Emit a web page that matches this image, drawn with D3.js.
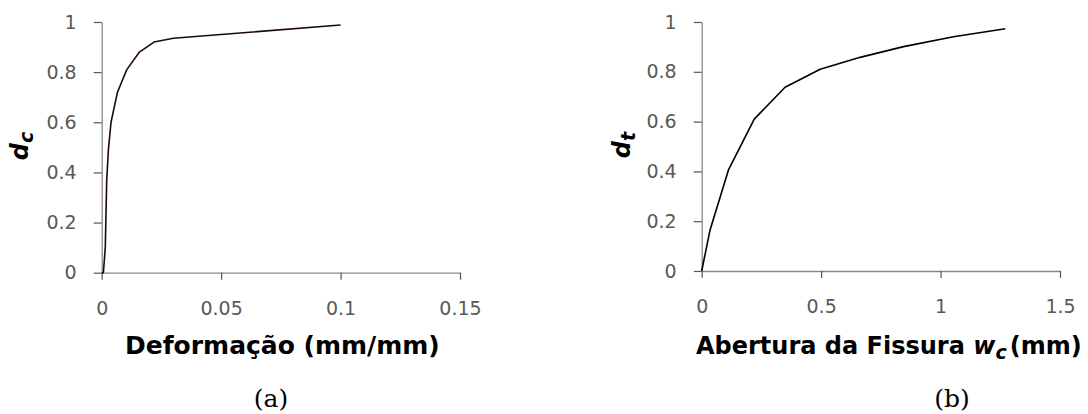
<!DOCTYPE html>
<html>
<head>
<meta charset="utf-8">
<script src="https://cdn.jsdelivr.net/npm/d3@7"></script>
<style>
    body { margin: 0; background: #fff; }
    .axis text { font-family: "DejaVu Sans", sans-serif; font-size: 19px; fill: #595959; }
    .axis path { stroke: #888; stroke-width: 1.3px; }
    .axis line { stroke: #555; stroke-width: 1.2px; }
    .title { font-family: "DejaVu Sans", sans-serif; font-size: 24px; font-weight: bold; fill: #000; }
    .caption { font-family: "DejaVu Serif", serif; font-size: 25px; fill: #000; }
</style>
</head>
<body>
<div class="container"></div>
<script>
// (a) damage in compression vs strain
let strainX = [0, 0.0007, 0.0015, 0.0021, 0.0028, 0.0039, 0.0066, 0.0105, 0.0158, 0.0219, 0.030, 0.100];
let dcY = [0, 0, 0.10, 0.37, 0.49, 0.60, 0.72, 0.81, 0.88, 0.92, 0.935, 0.988];

// (b) damage in tension vs crack opening
let crackW = [0, 0.035, 0.112, 0.220, 0.349, 0.496, 0.663, 0.845, 1.054, 1.271];
let dtY = [0, 0.165, 0.406, 0.610, 0.738, 0.810, 0.858, 0.901, 0.941, 0.973];

let yTicks = [0, 0.2, 0.4, 0.6, 0.8, 1];
let xTicksA = [0, 0.05, 0.1, 0.15];
let xTicksB = [0, 0.5, 1, 1.5];

let width = 1088;
let height = 414;

let svg = d3.select(".container")
    .append("svg")
    .attr("width", width)
    .attr("height", height);

const drawPanel = (p) => {
    let x = d3.scaleLinear()
        .domain([0, p.xTicks[p.xTicks.length - 1]])
        .range([p.left, p.right]);

    let y = d3.scaleLinear()
        .domain([0, 1])
        .range([p.bottom, p.top]);

    svg.append("g")
        .attr("class", "axis")
        .attr("transform", "translate(" + p.left + ",0)")
        .call(d3.axisLeft(y)
            .tickValues(yTicks)
            .tickFormat(d => String(d))
            .tickSize(8)
            .tickSizeOuter(0)
            .tickPadding(17));

    svg.append("g")
        .attr("class", "axis")
        .attr("transform", "translate(0," + p.bottom + ")")
        .call(d3.axisBottom(x)
            .tickValues(p.xTicks)
            .tickFormat(d => String(d))
            .tickSize(7)
            .tickSizeOuter(0)
            .tickPadding(22));

    let pts = p.xs.map((v, i) => [v, p.ys[i]]);

    svg.append("path")
        .datum(pts)
        .attr("fill", "none")
        .attr("stroke", p.color)
        .attr("stroke-width", 1.6)
        .attr("stroke-linejoin", "round")
        .attr("d", d3.line()
            .x(d => x(d[0]))
            .y(d => y(d[1])));

    // y title (rotated, with subscript)
    let yt = svg.append("text")
        .attr("class", "title")
        .attr("text-anchor", "middle")
        .attr("transform", "translate(" + p.yTitleX + "," + p.yTitleY + ") rotate(-90)");
    yt.append("tspan").attr("font-style", "italic").text("d");
    yt.append("tspan").attr("font-style", "italic").style("font-size", "19px").attr("dy", 5).text(p.sub);

    // x title
    let xt = svg.append("text")
        .attr("class", "title")
        .style("font-size", p.xTitleSize)
        .attr("x", p.xTitleX)
        .attr("y", 354);
    p.xTitle(xt);

    svg.append("text")
        .attr("class", "caption")
        .attr("text-anchor", "middle")
        .attr("x", p.capX)
        .attr("y", 407)
        .text(p.caption);
};

drawPanel({
    left: 101.7, right: 460, top: 22, bottom: 272.7,
    xTicks: xTicksA, xs: strainX, ys: dcY, color: "#1e0808",
    sub: "c", yTitleX: 28, yTitleY: 146,
    xTitleX: 125, xTitleSize: "25px",
    xTitle: t => t.text("Deformação (mm/mm)"),
    capX: 271, caption: "(a)"
});

drawPanel({
    left: 701.7, right: 1060, top: 22, bottom: 271,
    xTicks: xTicksB, xs: crackW, ys: dtY, color: "#000",
    sub: "t", yTitleX: 630, yTitleY: 145,
    xTitleX: 696, xTitleSize: "24px",
    xTitle: t => {
        t.append("tspan").text("Abertura da Fissura ");
        t.append("tspan").attr("font-style", "italic").text("w");
        t.append("tspan").attr("font-style", "italic").style("font-size", "19px").attr("dy", 5).text("c");
        t.append("tspan").attr("dy", -5).attr("dx", 3).text("(mm)");
    },
    capX: 952, caption: "(b)"
});
</script>
</body>
</html>
